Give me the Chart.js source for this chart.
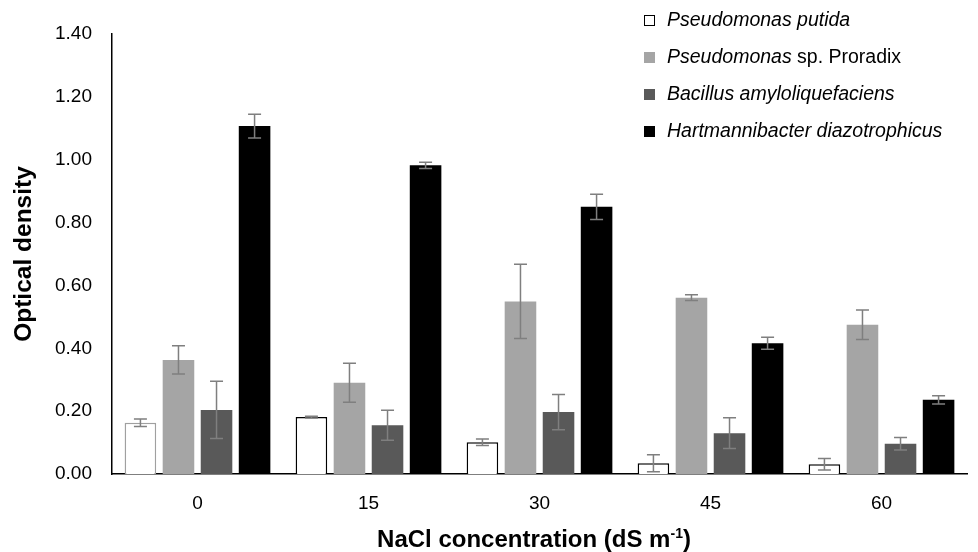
<!DOCTYPE html>
<html lang="en">
<head>
    <meta charset="UTF-8">
    <title>Optical density vs NaCl</title>
    <script src="https://cdn.jsdelivr.net/npm/chart.js"></script>
    <style>
        body { margin: 0; background: #fff; }
        #wrap { width: 978px; height: 552px; }
    </style>
</head>
<body>
    <div id="wrap"><canvas id="chart" width="978" height="552"></canvas></div>
    <script>
        const categories = ['0', '15', '30', '45', '60'];

        const putida = [0.163, 0.181, 0.101, 0.034, 0.031];
        const putidaErr = [0.012, 0.003, 0.010, 0.027, 0.018];
        const proradix = [0.363, 0.290, 0.549, 0.561, 0.475];
        const proradixErr = [0.045, 0.062, 0.118, 0.009, 0.047];
        const bacillus = [0.204, 0.155, 0.197, 0.130, 0.096];
        const bacillusErr = [0.091, 0.048, 0.056, 0.049, 0.020];
        const hartmann = [1.107, 0.982, 0.850, 0.416, 0.236];
        const hartmannErr = [0.038, 0.010, 0.040, 0.019, 0.013];

        const yTicks = [0, 0.2, 0.4, 0.6, 0.8, 1.0, 1.2, 1.4];

        // legend entries: [italic part, plain part]
        const legendItems = [
            ['Pseudomonas putida', ''],
            ['Pseudomonas', ' sp. Proradix'],
            ['Bacillus amyloliquefaciens', ''],
            ['Hartmannibacter diazotrophicus', '']
        ];

        const FONT = '"Liberation Sans", Arial, sans-serif';

        // error bars drawn on top of each bar
        const errorBars = {
            id: 'errorBars',
            afterDatasetsDraw(chart) {
                const ctx = chart.ctx;
                const y = chart.scales.y;
                ctx.save();
                ctx.strokeStyle = '#7f7f7f';
                ctx.lineWidth = 1.5;
                chart.data.datasets.forEach((ds, i) => {
                    const meta = chart.getDatasetMeta(i);
                    meta.data.forEach((bar, j) => {
                        const v = ds.data[j], e = ds.err[j];
                        const top = y.getPixelForValue(v + e);
                        const bot = y.getPixelForValue(v - e);
                        const x = bar.x;
                        ctx.beginPath();
                        ctx.moveTo(x, top); ctx.lineTo(x, bot);
                        ctx.moveTo(x - 6.5, top); ctx.lineTo(x + 6.5, top);
                        ctx.moveTo(x - 6.5, bot); ctx.lineTo(x + 6.5, bot);
                        ctx.stroke();
                    });
                });
                ctx.restore();
            }
        };

        // legend, axis titles
        const extras = {
            id: 'extras',
            afterDraw(chart) {
                const ctx = chart.ctx;
                ctx.save();

                // legend
                const colors = chart.data.datasets.map(d => d.legendColor);
                legendItems.forEach((it, i) => {
                    const yy = 20 + i * 37;
                    ctx.fillStyle = colors[i];
                    ctx.fillRect(644, yy - 5, 11, 11);
                    if (i === 0) {
                        ctx.strokeStyle = '#000';
                        ctx.lineWidth = 1;
                        ctx.strokeRect(644.5, yy - 4.5, 10, 10);
                    }
                    ctx.fillStyle = '#000';
                    ctx.textBaseline = 'middle';
                    ctx.textAlign = 'left';
                    ctx.font = 'italic 19.5px ' + FONT;
                    ctx.fillText(it[0], 667, yy + 1);
                    const w = ctx.measureText(it[0]).width;
                    ctx.font = '19.5px ' + FONT;
                    ctx.fillText(it[1], 667 + w, yy + 1);
                });

                // y title
                ctx.save();
                ctx.translate(24, 254);
                ctx.rotate(-Math.PI / 2);
                ctx.font = 'bold 24.5px ' + FONT;
                ctx.textAlign = 'center';
                ctx.textBaseline = 'middle';
                ctx.fillStyle = '#000';
                ctx.fillText('Optical density', 0, 0);
                ctx.restore();

                // x title with superscript
                ctx.fillStyle = '#000';
                ctx.textBaseline = 'alphabetic';
                ctx.textAlign = 'left';
                const a = 'NaCl concentration (dS m', sup = '-1', b = ')';
                ctx.font = 'bold 24px ' + FONT;
                const wa = ctx.measureText(a).width, wb = ctx.measureText(b).width;
                ctx.font = 'bold 14px ' + FONT;
                const ws = ctx.measureText(sup).width;
                let x0 = 534 - (wa + ws + wb) / 2;
                const base = 547;
                ctx.font = 'bold 24px ' + FONT;
                ctx.fillText(a, x0, base);
                ctx.font = 'bold 14px ' + FONT;
                ctx.fillText(sup, x0 + wa, base - 9);
                ctx.font = 'bold 24px ' + FONT;
                ctx.fillText(b, x0 + wa + ws, base);
                ctx.restore();
            }
        };

        const ctx = document.getElementById('chart');
        new Chart(ctx, {
            type: 'bar',
            data: {
                labels: categories,
                datasets: [
                    { label: 'Pseudomonas putida', data: putida, err: putidaErr,
                      backgroundColor: '#ffffff', borderColor: ['#a0a0a0', '#000', '#000', '#000', '#000'],
                      borderWidth: 1.5, legendColor: '#ffffff' },
                    { label: 'Pseudomonas sp. Proradix', data: proradix, err: proradixErr,
                      backgroundColor: '#a5a5a5', legendColor: '#a5a5a5' },
                    { label: 'Bacillus amyloliquefaciens', data: bacillus, err: bacillusErr,
                      backgroundColor: '#595959', legendColor: '#595959' },
                    { label: 'Hartmannibacter diazotrophicus', data: hartmann, err: hartmannErr,
                      backgroundColor: '#000000', legendColor: '#000000' }
                ]
            },
            options: {
                responsive: false,
                animation: false,
                layout: { padding: { top: 34, right: 11, left: 0, bottom: 0 } },
                datasets: { bar: { categoryPercentage: 0.89, barPercentage: 0.83 } },
                plugins: { legend: { display: false }, tooltip: { enabled: false } },
                scales: {
                    x: {
                        grid: { display: false, drawTicks: false },
                        border: { color: '#000', width: 1.5 },
                        ticks: { color: '#000', font: { family: FONT, size: 19 }, padding: 18 },
                        afterFit(s) { s.height = 78; }
                    },
                    y: {
                        min: 0, max: 1.4,
                        afterBuildTicks(s) { s.ticks = yTicks.map(v => ({ value: v })); },
                        grid: { display: false, drawTicks: false },
                        border: { color: '#000', width: 1.5 },
                        ticks: { color: '#000', font: { family: FONT, size: 19 }, padding: 20,
                                 callback: v => Number(v).toFixed(2) },
                        afterFit(s) { s.width = 112; }
                    }
                }
            },
            plugins: [errorBars, extras]
        });
    </script>
</body>
</html>
